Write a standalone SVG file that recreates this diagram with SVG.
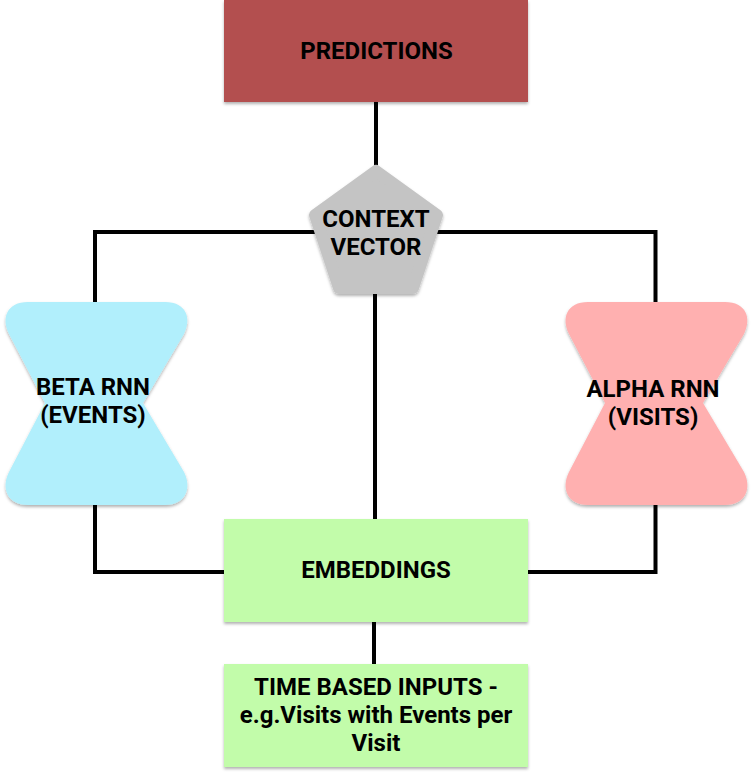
<svg xmlns="http://www.w3.org/2000/svg" width="752" height="775" viewBox="0 0 752 775">
<defs>
<filter id="sh" x="-10%" y="-10%" width="120%" height="130%">
<feDropShadow dx="0" dy="2" stdDeviation="1.5" flood-color="#000" flood-opacity="0.3"/>
</filter>
</defs>
<style>
.c{fill:none;stroke:#000;stroke-width:4}
.t{font-family:Roboto,"Liberation Sans",sans-serif;font-weight:bold;font-size:24px;fill:#000;text-anchor:middle}
</style>
<rect width="752" height="775" fill="#fff"/>
<g id="connectors">
<path class="c" d="M376 102V170"/>
<path class="c" d="M376 232H95V304"/>
<path class="c" d="M376 232H655.5V304"/>
<path class="c" d="M375 290V521"/>
<path class="c" d="M95 503V572H226"/>
<path class="c" d="M655.5 503V572H526"/>
<path class="c" d="M374 620V666"/>
</g>
<g id="predictions">
<rect x="224" y="0" width="304" height="102" fill="#b34f4f" filter="url(#sh)"/>
<text class="t" x="376.5" y="59">PREDICTIONS</text>
</g>
<g id="context">
<polygon points="376,171 437,215 413,288 339,288 315,215" fill="#c4c4c4" stroke="#c4c4c4" stroke-width="12" stroke-linejoin="round" filter="url(#sh)"/>
<text class="t" x="376" y="227">CONTEXT</text>
<text class="t" x="376" y="255">VECTOR</text>
</g>
<g id="beta">
<path d="M28 302H165C186 302 192 318 184 334L143 403L184 472C192 488 186 505 165 505H28C7 505 1 488 9 472L45 403L9 334C1 318 7 302 28 302Z" fill="#b1effc" filter="url(#sh)"/>
<text class="t" x="93" y="395">BETA RNN</text>
<text class="t" x="93" y="423">(EVENTS)</text>
</g>
<g id="alpha">
<path d="M588 302H725C746 302 752 318 744 334L703 403L744 472C752 488 746 505 725 505H588C567 505 561 488 569 472L605 403L569 334C561 318 567 302 588 302Z" fill="#ffb0b0" filter="url(#sh)"/>
<text class="t" x="653" y="397">ALPHA RNN</text>
<text class="t" x="653" y="425">(VISITS)</text>
</g>
<g id="embeddings">
<rect x="224" y="519" width="304" height="103" fill="#c2fcaa" filter="url(#sh)"/>
<text class="t" x="376" y="578">EMBEDDINGS</text>
</g>
<g id="inputs">
<rect x="224" y="664" width="304" height="103" fill="#c2fcaa" filter="url(#sh)"/>
<text class="t" x="376" y="695">TIME BASED INPUTS -</text>
<text class="t" x="376" y="723">e.g.Visits with Events per</text>
<text class="t" x="376" y="751">Visit</text>
</g>
</svg>
